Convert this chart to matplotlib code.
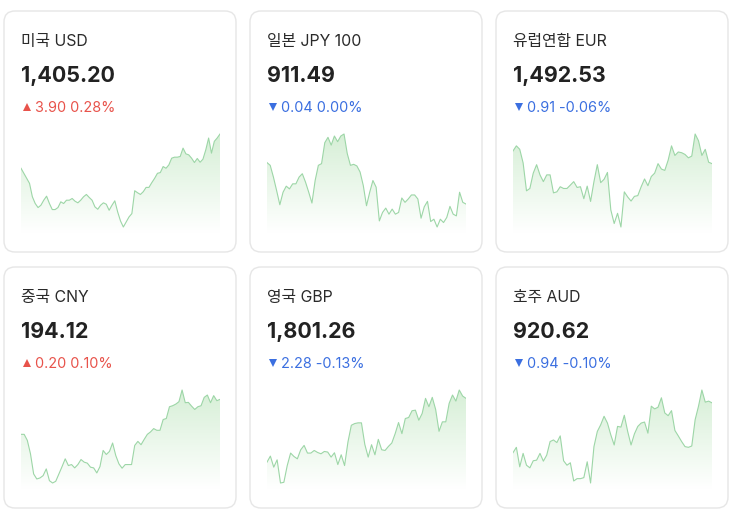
import numpy as np
import matplotlib
matplotlib.use("Agg")
from matplotlib import pyplot as plt
from matplotlib.patches import FancyBboxPatch
from matplotlib.colors import LinearSegmentedColormap

plt.rcParams['font.family'] = ['Inter', 'Noto Sans CJK KR', 'DejaVu Sans']

# card content
names = ["미국 USD", "일본 JPY 100", "유럽연합 EUR", "중국 CNY", "영국 GBP", "호주 AUD"]
rates = ["1,405.20", "911.49", "1,492.53", "194.12", "1,801.26", "920.62"]
changes = ["3.90 0.28%", "0.04 0.00%", "0.91 -0.06%", "0.20 0.10%", "2.28 -0.13%", "0.94 -0.10%"]
is_up = [True, False, False, True, False, False]

# sparkline values (relative level, higher = up)
usd_trend = [65, 60, 55, 50, 36.7, 30, 26, 28.3, 33.3, 37.3, 30, 24, 24, 26, 31.7, 30, 33.3, 33.3,
             35, 32.3, 30.7, 33.3, 36.7, 39, 36, 33.3, 26.7, 24.3, 28.3, 30.7, 29.3, 23.3, 28.3,
             32.7, 21.7, 12.7, 6.7, 11.7, 16.7, 20, 42.7, 40.7, 39, 41.7, 46, 46, 50.7, 55, 60,
             60.7, 66.7, 65, 68.3, 75, 76, 76, 76.7, 85, 79.3, 78.3, 75, 70.7, 74.7, 71, 74, 83.3,
             95, 80, 91.7, 95, 99]
jpy_trend = [71, 68.3, 56.7, 43.3, 29.3, 41.7, 47.7, 45, 50, 50, 56.7, 60, 51.7, 41.7, 31, 53.3,
             68.3, 70, 90.7, 96, 88.3, 97.3, 91.7, 97.3, 99.3, 80, 68.3, 69.3, 67.7, 61.7, 48.3,
             28.3, 41.7, 53.3, 46.7, 13.3, 21.7, 26, 20, 25, 20, 21.7, 36, 31.7, 35, 39, 39, 35,
             16, 27.3, 32.7, 12.7, 15, 7.3, 15, 11.7, 16.7, 27.7, 20, 18.3, 41.7, 31.7, 30]
eur_trend = [81.7, 86.7, 83.3, 70, 42.7, 45, 60, 68.3, 58.3, 51.7, 58.3, 58.3, 40.7, 41.7, 46.7,
             45, 45, 48.3, 51.7, 46, 46.7, 35, 47.3, 32.3, 51.7, 68.3, 50.7, 54, 60.7, 24, 10.7,
             20.7, 7.3, 41.7, 36.7, 32.7, 37.3, 38, 46.7, 54.3, 47.7, 56.7, 60, 69.3, 64, 62.7,
             72.7, 86.7, 77.3, 80.7, 80, 78.3, 75, 76.7, 98.3, 91.7, 77.3, 83.3, 70.7, 69.3]
cny_trend = [55.3, 55.3, 49.3, 36, 16, 11, 12, 14.3, 21, 9.3, 7, 8.7, 16, 23.3, 31, 24.3, 25.3,
             22, 25.3, 30.3, 27.7, 26.7, 22.7, 22, 17, 23.3, 39.3, 35.3, 38.3, 46.7, 34.3, 26,
             21.7, 25.3, 25.3, 25.3, 44.3, 48.3, 45, 50.3, 55.3, 57.7, 61, 59.3, 59.3, 70, 71,
             82.7, 83.7, 85.3, 87.7, 99.3, 86.7, 87, 83.3, 80, 82.7, 83.7, 92, 94.3, 86.7, 93.7,
             88.7, 90]
gbp_trend = [31.7, 37.7, 26.7, 34, 11, 11.7, 28.3, 40.7, 37.3, 35, 44, 48.3, 40.7, 40.7, 43.3,
             41.3, 40, 42.3, 41.7, 36.7, 41, 29.3, 39, 28.3, 51.7, 68.3, 70, 70.7, 70.7, 49.3, 36.7,
             49, 39, 54.3, 44, 43.3, 47.3, 50.7, 60, 71, 60, 75, 76, 82.7, 83.3, 73.3, 80, 95,
             86.7, 96, 84, 62.3, 71.7, 71.7, 90, 98.3, 92.3, 103.3, 97.3, 95]
aud_trend = [40.7, 46, 26.7, 40, 28.3, 25.7, 32.7, 33.3, 40, 32.3, 38.3, 51.7, 53.3, 50.7, 57.3,
             32.7, 28.3, 30.7, 12.7, 15, 15, 16, 31.7, 10.7, 46.7, 61.7, 68.3, 76.7, 70, 58.3,
             48.3, 66.7, 66, 77.7, 61.7, 48.3, 59.3, 66.7, 70, 71, 60, 86.7, 84, 85.7, 95, 80,
             77.3, 82.3, 62.7, 57.3, 51.7, 46.7, 46, 47.3, 73.3, 86.7, 102.7, 90.7, 91.7, 90]
trends = [usd_trend, jpy_trend, eur_trend, cny_trend, gbp_trend, aud_trend]

W, H = 743, 524
CARD_X = [4, 250, 496]
CARD_Y = [11, 267]
CARD_W, CARD_H = 232, 241

TEXT_DARK = "#222222"
RED = "#e8534b"
BLUE = "#3b6fe0"
LINE_GREEN = "#9dd6a7"

fig = plt.figure(figsize=(W / 100, H / 100), dpi=100)
bg = fig.add_axes([0, 0, 1, 1])
bg.set_xlim(0, W)
bg.set_ylim(H, 0)
bg.axis("off")

fill_cmap = LinearSegmentedColormap.from_list("fade", ["#ffffff", "#d6efd6"])

for i, (name, rate, chg, up, vals) in enumerate(zip(names, rates, changes, is_up, trends)):
    cx = CARD_X[i % 3]
    cy = CARD_Y[i // 3]
    card = FancyBboxPatch((cx, cy), CARD_W, CARD_H,
                          boxstyle="round,pad=0,rounding_size=11",
                          facecolor="white", edgecolor="#e6e6e6", linewidth=1.0)
    bg.add_patch(card)

    tx = cx + 17
    bg.text(tx, cy + 35, name, fontsize=11.4, color="#2a2a2a", va="baseline", ha="left")
    bg.text(tx, cy + 70.5, rate, fontsize=15.4, fontweight="bold", color=TEXT_DARK,
            va="baseline", ha="left")
    col = RED if up else BLUE
    bg.plot(tx + 5.5, cy + 95.5, marker="^" if up else "v", markersize=6,
            color=col, markeredgewidth=0)
    bg.text(tx + 14, cy + 100.5, chg, fontsize=10.4, color=col, va="baseline", ha="left")

    # sparkline
    left = cx + 17
    right = cx + 216
    top = cy + 119
    bottom = cy + 222
    ax = fig.add_axes([left / W, 1 - bottom / H, (right - left) / W, (bottom - top) / H])
    ax.axis("off")
    y = np.array(vals, dtype=float)
    x = np.arange(len(y))
    lo, hi = y.min(), y.max()
    r = hi - lo
    y0 = lo - r * 6 / 93
    y1 = hi + r * 4 / 93
    ax.set_xlim(0, len(y) - 1)
    ax.set_ylim(y0, y1)
    poly = ax.fill_between(x, y, y0, facecolor="none", edgecolor="none")
    grad = np.linspace(1, 0, 256).reshape(-1, 1)
    im = ax.imshow(grad, extent=[0, len(y) - 1, y0, hi], aspect="auto",
                   cmap=fill_cmap, vmin=0, vmax=1, origin="upper", zorder=1)
    im.set_clip_path(poly.get_paths()[0], transform=ax.transData)
    ax.plot(x, y, color=LINE_GREEN, linewidth=0.8, zorder=2)

fig.savefig("out.png", dpi=100, facecolor="white")
